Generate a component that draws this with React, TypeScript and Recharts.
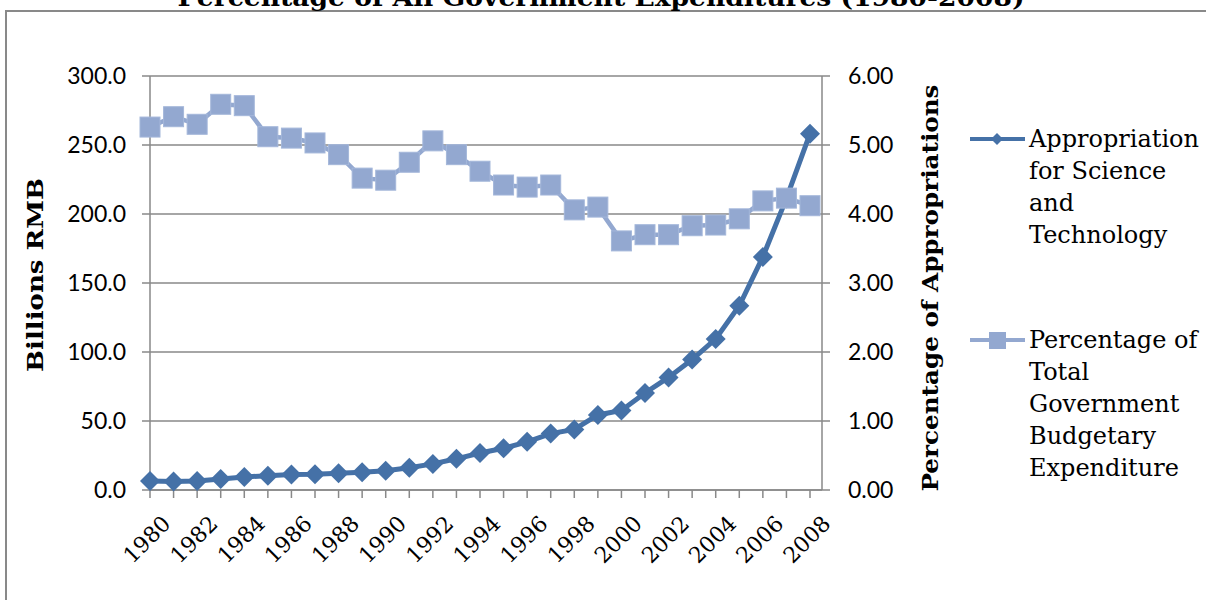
import React from "react";
import { CartesianGrid, Legend, Line, LineChart, XAxis, YAxis } from "recharts";

// values
const years = [
  "1980", "1981", "1982", "1983", "1984", "1985", "1986", "1987", "1988", "1989",
  "1990", "1991", "1992", "1993", "1994", "1995", "1996", "1997", "1998", "1999",
  "2000", "2001", "2002", "2003", "2004", "2005", "2006", "2007", "2008",
];
const appropriation = [
  6.5, 6.2, 6.5, 8.0, 9.5, 10.3, 11.3, 11.4, 12.1, 12.8,
  13.9, 16.1, 18.9, 22.6, 26.8, 30.2, 34.9, 40.9, 43.9, 54.4,
  57.6, 70.3, 81.6, 94.5, 109.5, 133.5, 168.9, 211.3, 258.2,
];
const percentOfTotal = [
  5.26, 5.41, 5.3, 5.59, 5.57, 5.12, 5.1, 5.03, 4.86, 4.52,
  4.49, 4.75, 5.06, 4.86, 4.62, 4.42, 4.39, 4.42, 4.06, 4.1,
  3.61, 3.7, 3.7, 3.83, 3.84, 3.93, 4.19, 4.23, 4.12,
];
const leftTicks = [0, 50, 100, 150, 200, 250, 300];
const rightTicks = [0, 1, 2, 3, 4, 5, 6];

const DARK = "#4571A7";
const LIGHT = "#93A8D0";
const GRAY = "#898989";
const SERIF = "'DejaVu Serif', serif";
const SANS = "Lato, sans-serif";

const rows = years.map((year, i) => ({
  year,
  appropriation: appropriation[i],
  percent: percentOfTotal[i],
}));

const Diamond = (props: any) => {
  const { cx, cy } = props;
  if (cx == null || cy == null) return null;
  return (
    <path
      d={`M${cx},${cy - 10}L${cx + 10},${cy}L${cx},${cy + 10}L${cx - 10},${cy}Z`}
      fill={DARK}
    />
  );
};

const Square = (props: any) => {
  const { cx, cy } = props;
  if (cx == null || cy == null) return null;
  return (
    <rect x={cx - 10} y={cy - 10} width={20} height={20} fill={LIGHT} stroke="#A4B7DA" strokeWidth={1} />
  );
};

const YearTick = (props: any) => {
  const { x, y, payload } = props;
  if (Number(payload.value) % 2 !== 0) return null;
  return (
    <g transform={`translate(${x + 22},${y + 25})`}>
      <text textAnchor="end" transform="rotate(-45)" fontFamily={SERIF} fontSize={22} fill="#000">
        {payload.value}
      </text>
    </g>
  );
};

const renderLegend = (props: any) => {
  const items = props.payload || [];
  return (
    <div style={{ fontFamily: SERIF, fontSize: 24, lineHeight: "32px", color: "#000" }}>
      {items.map((item: any, i: number) => {
        const isDark = item.dataKey === "appropriation";
        return (
          <div key={i} style={{ display: "flex", marginBottom: 73 }}>
            <svg width={61} height={32} style={{ flex: "none" }}>
              <line x1={2} x2={57} y1={16} y2={16} stroke={item.color} strokeWidth={4} />
              {isDark ? (
                <path d="M29,10L35,16L29,22L23,16Z" fill={DARK} />
              ) : (
                <rect x={21} y={8} width={17} height={17} fill={LIGHT} />
              )}
            </svg>
            <div style={{ whiteSpace: "pre-line" }}>{item.value}</div>
          </div>
        );
      })}
    </div>
  );
};

export default function App() {
  return (
    <div style={{ position: "absolute", left: 0, top: 0, width: 1206, height: 600, overflow: "hidden", background: "#fff" }}>
      <div
        style={{
          position: "absolute",
          left: 5,
          top: 10,
          width: 1210,
          height: 600,
          border: `2px solid ${GRAY}`,
          boxSizing: "border-box",
        }}
      />
      <div style={{ position: "absolute", left: 0, top: 0 }}>
        <LineChart width={1206} height={600} data={rows} margin={{ top: 76, right: 284, bottom: 10, left: 50 }}>
          <CartesianGrid vertical={false} stroke={GRAY} strokeWidth={1.5} yAxisId="left" />
          <XAxis
            dataKey="year"
            scale="point"
            interval={0}
            height={100}
            padding={{ left: 0, right: 12 }}
            axisLine={{ stroke: GRAY, strokeWidth: 1.5 }}
            tickLine={{ stroke: GRAY, strokeWidth: 1.5 }}
            tickSize={8}
            tick={<YearTick />}
          />
          <YAxis
            yAxisId="left"
            width={100}
            domain={[0, 300]}
            ticks={leftTicks}
            tickFormatter={(v: number) => v.toFixed(1)}
            axisLine={{ stroke: GRAY, strokeWidth: 1.5 }}
            tickLine={{ stroke: GRAY, strokeWidth: 1.5 }}
            tickSize={8}
            tickMargin={16}
            tick={{ fontFamily: SANS, fontSize: 23, fill: "#000" }}
          />
          <YAxis
            yAxisId="right"
            orientation="right"
            width={100}
            domain={[0, 6]}
            ticks={rightTicks}
            tickFormatter={(v: number) => v.toFixed(2)}
            axisLine={{ stroke: GRAY, strokeWidth: 1.5 }}
            tickLine={{ stroke: GRAY, strokeWidth: 1.5 }}
            tickSize={8}
            tickMargin={18}
            tick={{ fontFamily: SANS, fontSize: 23, fill: "#000" }}
          />
          <Legend
            layout="vertical"
            align="center"
            verticalAlign="middle"
            content={renderLegend}
            wrapperStyle={{ left: 968, top: 123, width: 238, right: "auto", bottom: "auto" }}
          />
          <Line
            yAxisId="left"
            dataKey="appropriation"
            name={"Appropriation\nfor Science\nand\nTechnology"}
            type="linear"
            stroke={DARK}
            strokeWidth={5}
            dot={<Diamond />}
            activeDot={false}
            isAnimationActive={false}
          />
          <Line
            yAxisId="right"
            dataKey="percent"
            name={"Percentage of\nTotal\nGovernment\nBudgetary\nExpenditure"}
            type="linear"
            stroke={LIGHT}
            strokeWidth={4.5}
            dot={<Square />}
            activeDot={false}
            isAnimationActive={false}
          />
        </LineChart>
      </div>
      <svg
        width={1206}
        height={600}
        style={{ position: "absolute", left: 0, top: 0, pointerEvents: "none" }}
      >
        <text
          x={601}
          y={6}
          textAnchor="middle"
          fontFamily={SERIF}
          fontWeight="bold"
          fontSize={24}
          textLength={847}
          lengthAdjust="spacingAndGlyphs"
        >
          Percentage of All Government Expenditures (1980-2008)
        </text>
        <text
          transform="translate(43,275) rotate(-90)"
          textAnchor="middle"
          fontFamily={SERIF}
          fontWeight="bold"
          fontSize={22}
          textLength={194}
          lengthAdjust="spacingAndGlyphs"
        >
          Billions RMB
        </text>
        <text
          transform="translate(938,288) rotate(-90)"
          textAnchor="middle"
          fontFamily={SERIF}
          fontWeight="bold"
          fontSize={22}
          textLength={407}
          lengthAdjust="spacingAndGlyphs"
        >
          Percentage of Appropriations
        </text>
      </svg>
    </div>
  );
}
